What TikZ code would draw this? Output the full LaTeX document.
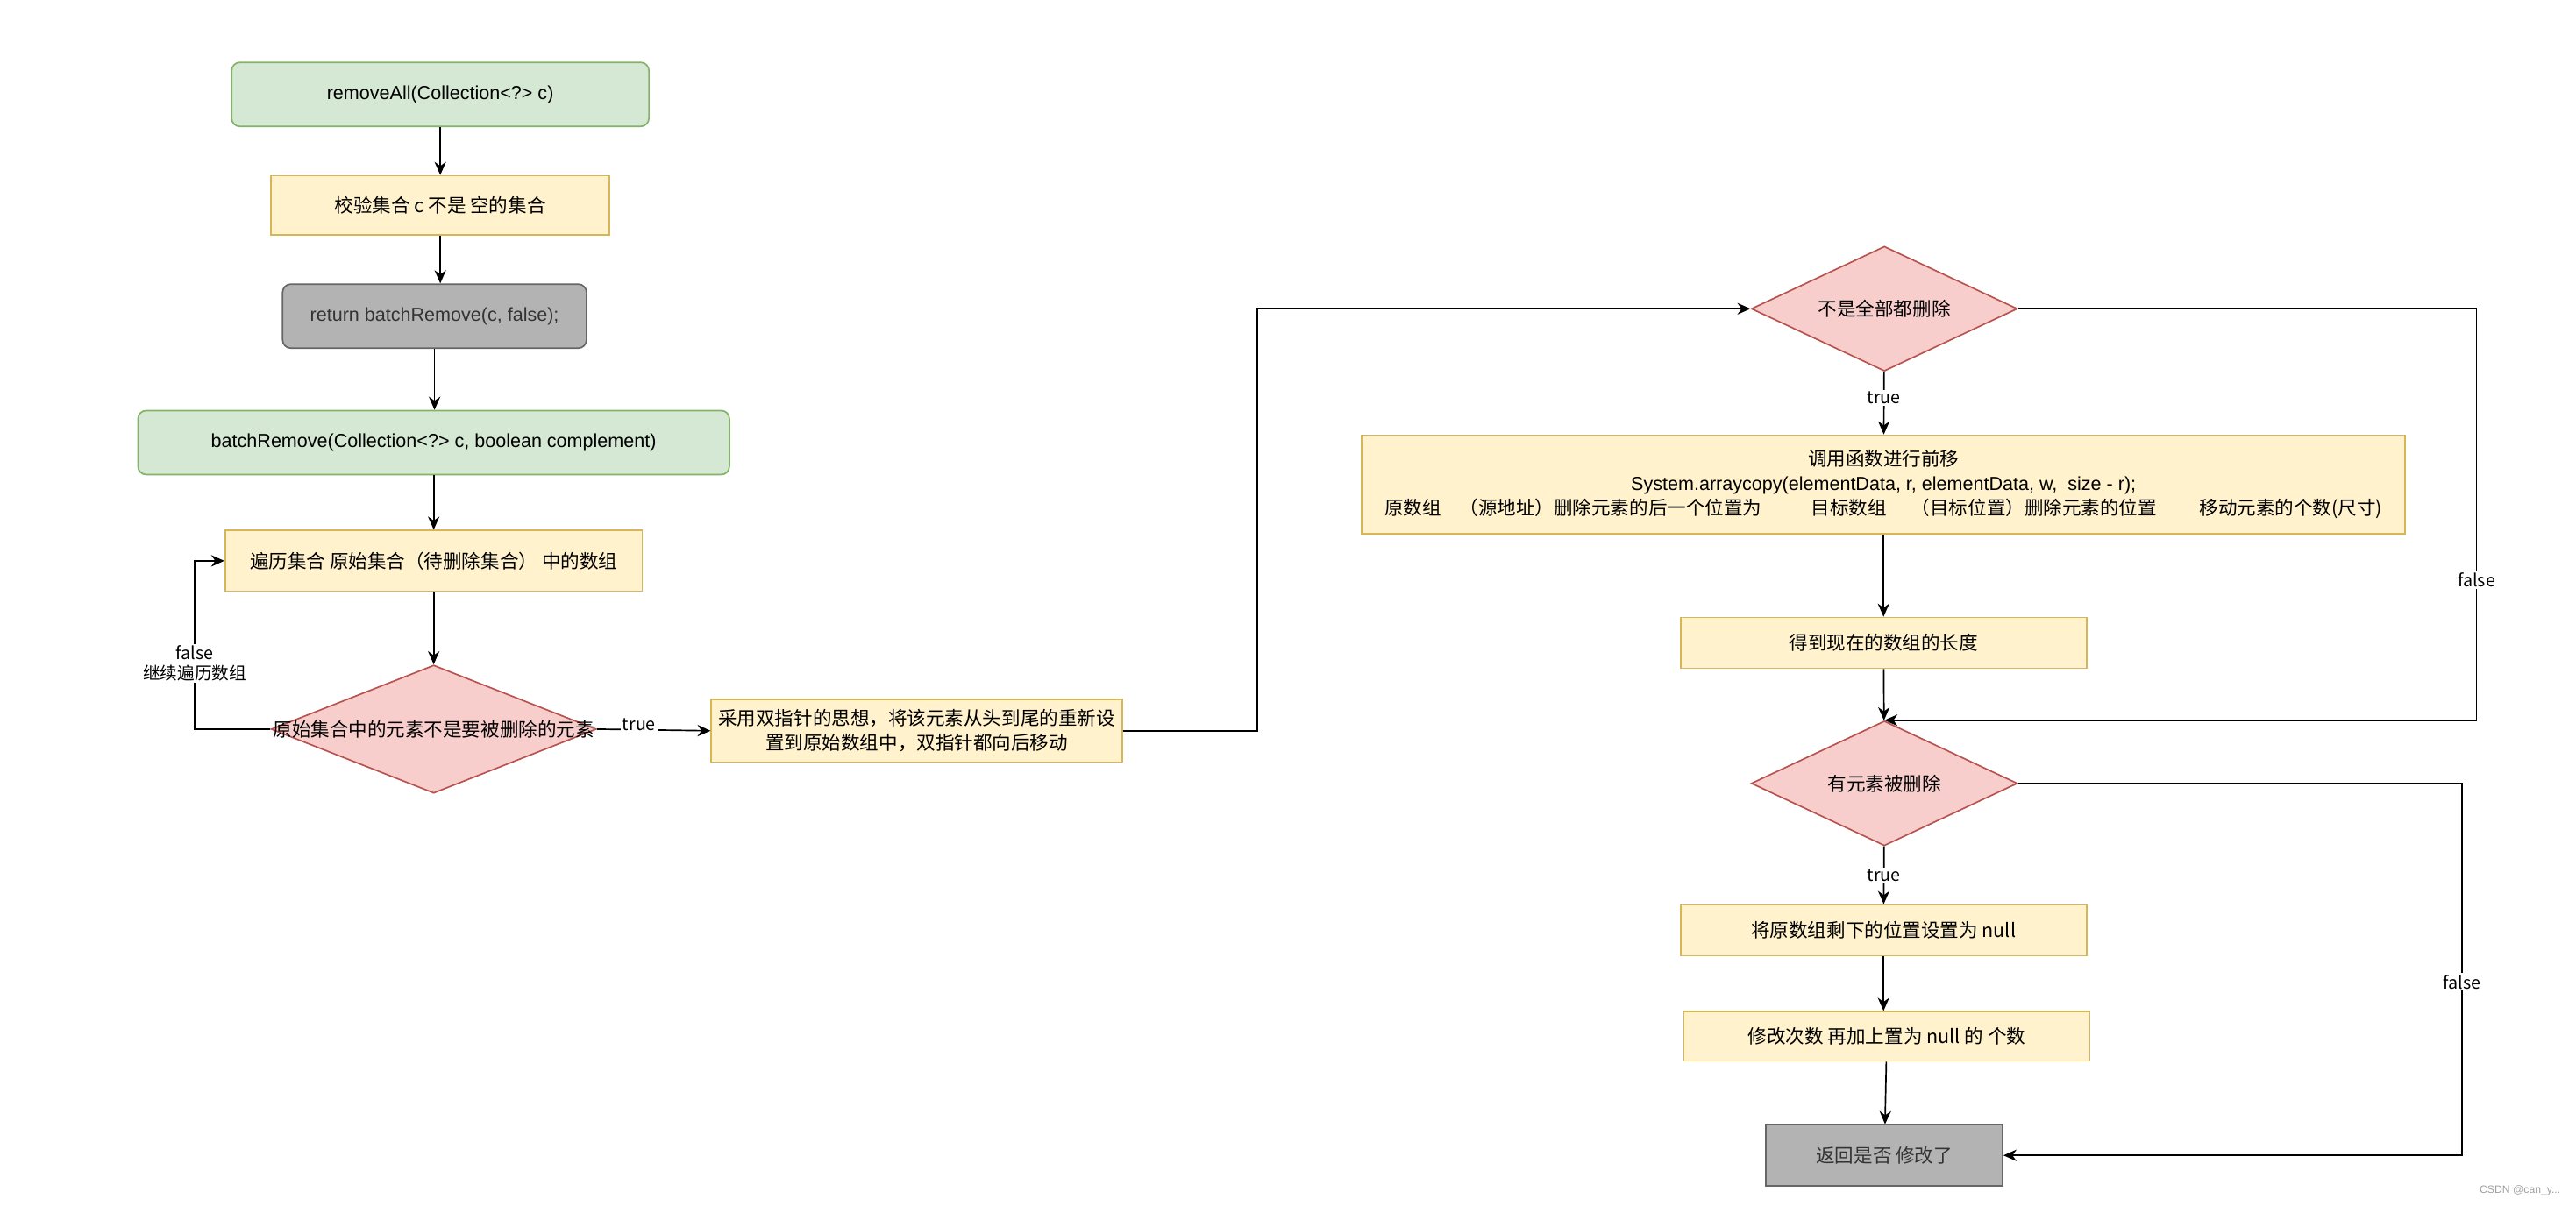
\documentclass[tikz,border=0pt]{standalone}
\usepackage{fontspec}
\setmainfont{Noto Sans CJK SC}
\newfontfamily\latinfont{Liberation Sans}
\usetikzlibrary{arrows.meta, positioning, calc, shapes.geometric}
\definecolor{startgreen}{HTML}{D5E8D4}
\definecolor{startline}{HTML}{82B366}
\definecolor{stepyellow}{HTML}{FFF2CC}
\definecolor{stepline}{HTML}{D6B656}
\definecolor{askred}{HTML}{F8CECC}
\definecolor{askline}{HTML}{B85450}
\definecolor{endgray}{HTML}{B3B3B3}
\definecolor{endline}{HTML}{666666}
\definecolor{endtext}{HTML}{333333}

\begin{document}
\begin{tikzpicture}[
    x=1pt, y=1pt,
    every node/.style={font=\fontsize{11.5}{15}\selectfont},
    start/.style={draw=startline, fill=startgreen, rounded corners=5pt, line width=0.9pt, minimum height=39pt, align=center, font=\latinfont\fontsize{11.5}{15}\selectfont},
    stepbox/.style={draw=stepline, fill=stepyellow, line width=0.9pt, align=center},
    endbox/.style={draw=endline, fill=endgray, line width=0.9pt, text=endtext, align=center},
    decision/.style={diamond, draw=askline, fill=askred, line width=0.9pt, inner sep=0pt},
    arrow/.style={-{Stealth[length=8pt, width=7pt, inset=2.5pt]}, line width=0.9pt},
    lbl/.style={fill=white, inner sep=1pt, align=center, font=\fontsize{10.5}{12.5}\selectfont}
]
\useasboundingbox (0,0) rectangle (1568,-734);

% Left column
\node[start, minimum width=254pt] (start) at (268,-57.5) {removeAll(Collection<?> c)};
\node[stepbox, minimum width=206pt, minimum height=36pt] (check) at ($(start)+(0,-67.5)$) {校验集合 c 不是 空的集合};
\node[endbox, rounded corners=5pt, minimum width=185pt, minimum height=39pt, font=\latinfont\fontsize{11.5}{15}\selectfont] (ret) at ($(check)+(-3.5,-67.5)$) {return batchRemove(c, false);};
\node[start, minimum width=360pt] (batch) at ($(ret)+(-0.5,-77)$) {batchRemove(Collection<?> c, boolean complement)};
\node[stepbox, minimum width=254pt, minimum height=37pt] (loop) at ($(batch)+(0,-72)$) {遍历集合 原始集合（待删除集合） 中的数组};
\node[decision, minimum width=198pt, minimum height=78pt, label=center:{原始集合中的元素不是要被删除的元素}] (chk) at ($(loop)+(0,-102.5)$) {};
\node[stepbox, minimum width=250pt, minimum height=38pt] (move) at (558,-445) {采用双指针的思想，将该元素从头到尾的重新设\\置到原始数组中，双指针都向后移动};

% Right column
\node[decision, minimum width=162pt, minimum height=76pt, label=center:{不是全部都删除}] (notall) at (1147,-188) {};
\node[stepbox, minimum width=635pt, minimum height=60pt] (call) at ($(notall)+(-0.5,-107)$) {调用函数进行前移\\{\latinfont System.arraycopy(elementData, r, elementData, w,~ size - r);}\\原数组\hspace{11pt}（源地址）删除元素的后一个位置为\hspace{30pt}目标数组\hspace{15pt}（目标位置）删除元素的位置\hspace{26pt}移动元素的个数(尺寸)};
\node[stepbox, minimum width=247pt, minimum height=31pt] (len) at ($(call)+(0,-96.5)$) {得到现在的数组的长度};
\node[decision, minimum width=162pt, minimum height=76pt, label=center:{有元素被删除}] (hasdel) at (1147,-477) {};
\node[stepbox, minimum width=247pt, minimum height=31pt] (setnull) at ($(hasdel)+(-0.5,-89.5)$) {将原数组剩下的位置设置为 null};
\node[stepbox, minimum width=247pt, minimum height=30pt] (modcnt) at ($(setnull)+(2,-64.5)$) {修改次数 再加上置为 null 的 个数};
\node[endbox, minimum width=144pt, minimum height=37pt] (done) at (1147,-703.5) {返回是否 修改了};

% Watermark
\node[font=\latinfont\fontsize{6.5}{8}\selectfont, text=gray!75, anchor=east] (mark) at (1562,-725) {CSDN @can\_y...};

% Left flow
\draw[arrow] (start) -- (check);
\draw[arrow] (check.south) -- (check.south |- ret.north);
\draw[arrow] (ret) -- (ret.south |- batch.north);
\draw[arrow] (batch) -- (loop);
\draw[arrow] (loop) -- (chk);
\draw[arrow] (chk.west) -- ++(-46,0) |- node[lbl, pos=0.195] {false\\继续遍历数组} (loop.west);
\draw[arrow] (chk.east) -- node[lbl, pos=0.37, yshift=3pt] {true} (move.west);
\draw[arrow] (move.east) -- ++(82,0) |- (notall.west);

% Right flow
\draw[arrow] (notall) -- node[lbl, pos=0.42] {true} (call);
\draw[arrow] (notall.east) -- ++(279,0) |- node[lbl, pos=0.33] {false} (hasdel.north);
\draw[arrow] (call) -- (len);
\draw[arrow] (len) -- (hasdel);
\draw[arrow] (hasdel) -- node[lbl] {true} (setnull);
\draw[arrow] (hasdel.east) -- ++(270,0) |- node[lbl, pos=0.267] {false} (done.east);
\draw[arrow] (setnull.south) -- (setnull.south |- modcnt.north);
\draw[arrow] (modcnt) -- (done);

\end{tikzpicture}
\end{document}
